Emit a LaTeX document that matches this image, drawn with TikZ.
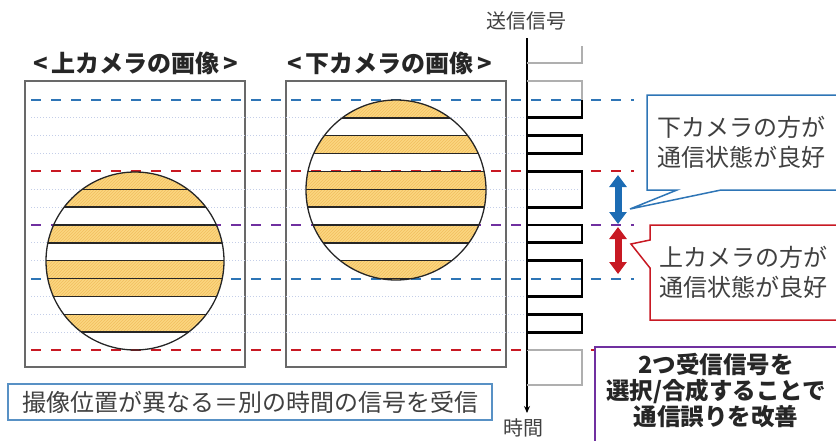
\documentclass[tikz,border=0pt]{standalone}
\usepackage{fontspec}
\setmainfont{Noto Sans CJK JP}
\usetikzlibrary{arrows.meta,patterns}
\definecolor{blueD}{RGB}{46,117,182}
\definecolor{redD}{RGB}{200,25,35}
\definecolor{purpleD}{RGB}{112,48,160}
\definecolor{gridL}{RGB}{196,206,232}
\definecolor{txtgray}{RGB}{64,64,64}
\definecolor{boxgray}{RGB}{105,105,105}
\definecolor{hatchY}{RGB}{251,214,128}
\definecolor{hatchL}{RGB}{242,190,95}
\definecolor{sigGray}{RGB}{175,175,175}
\definecolor{arrBlue}{RGB}{28,108,180}
\tikzset{
  imgbox/.style={draw=boxgray, line width=1.4pt},
  gridline/.style={draw=gridL, line width=0.8pt, dash pattern=on 1pt off 2pt},
  dashline/.style={line width=2pt, dash pattern=on 10pt off 10pt},
  chord/.style={draw=black!85, line width=1.3pt},
  circ/.style={draw=black!85, line width=1.3pt},
  sig/.style={draw=black, line width=2.8pt, line join=miter},
  siggray/.style={draw=sigGray, line width=1.2pt},
  dblarrow/.style={line width=7pt, {Triangle[width=17pt,length=12pt]}-{Triangle[width=17pt,length=12pt]}},
  title/.style={font=\fontsize{24}{26}\selectfont\bfseries, text=black!85, inner sep=0pt},
  plain/.style={font=\fontsize{24}{30}\selectfont, text=txtgray, inner sep=0pt, align=left},
  small/.style={font=\fontsize{20}{24}\selectfont, text=txtgray, inner sep=0pt},
}
\begin{document}
\begin{tikzpicture}[x=1pt,y=-1pt]
\useasboundingbox (0,0) rectangle (836,440);
\clip (0,0) rectangle (836,440);
% image frames
\draw[imgbox] (25,81) rectangle (245,367);
\draw[imgbox] (286,81) rectangle (506,367);
% grid lines
\foreach \k in {1,2,3,5,6,8,9,11,12,13}
  \draw[gridline] (31,{100+\k*250/14}) -- (580,{100+\k*250/14});
\foreach \k/\c in {0/blueD,4/redD,7/purpleD,10/blueD,14/redD}
  \draw[dashline, draw=\c] (31,{100+\k*250/14}) -- (634,{100+\k*250/14});
% left circle
\begin{scope}
  \clip (135,261) circle[radius=89pt];
  \foreach \k in {0,2,4,5,7,9,10,12} {
    \fill[hatchY] (40,{100+\k*250/14}) rectangle (232,{100+(\k+1)*250/14});
    \fill[pattern=north east lines, pattern color=hatchL] (40,{100+\k*250/14}) rectangle (232,{100+(\k+1)*250/14});
  }
  \foreach \k in {1,...,13}
    \draw[chord] (40,{100+\k*250/14}) -- (232,{100+\k*250/14});
\end{scope}
\draw[circ] (135,261) circle[radius=89pt];
% right circle
\begin{scope}
  \clip (396,190) circle[radius=90pt];
  \foreach \k in {0,2,4,5,7,9,10,12} {
    \fill[hatchY] (300,{100+\k*250/14}) rectangle (492,{100+(\k+1)*250/14});
    \fill[pattern=north east lines, pattern color=hatchL] (300,{100+\k*250/14}) rectangle (492,{100+(\k+1)*250/14});
  }
  \foreach \k in {1,...,13}
    \draw[chord] (300,{100+\k*250/14}) -- (492,{100+\k*250/14});
\end{scope}
\draw[circ] (396,190) circle[radius=90pt];
% time axis
\coordinate (ax0) at (527,38);
\coordinate (ax1) at (527,413);
\draw[line width=1.2pt, -{Stealth[length=7pt,width=6pt]}] (ax0) -- (ax1);
% gray signal parts
\draw[siggray] (582,46) -- (582,63) -- (527,63);
\draw[siggray] (527,81) -- (582,81) -- (582,100);
\draw[siggray] (527,350) -- (582,350) -- (582,385) -- (527,385);
% black signal
\draw[sig] (582,100) -- (582,117.86) -- (527,117.86) -- (527,135.71) -- (582,135.71)
  -- (582,153.57) -- (527,153.57) -- (527,171.43) -- (582,171.43) -- (582,207.14)
  -- (527,207.14) -- (527,225) -- (582,225) -- (582,242.86) -- (527,242.86)
  -- (527,260.71) -- (582,260.71) -- (582,296.43) -- (527,296.43) -- (527,314.29)
  -- (582,314.29) -- (582,332.14) -- (527,332.14) -- (527,350);
% double arrows
\coordinate (ba0) at (618,175);
\coordinate (ba1) at (618,224);
\coordinate (ra0) at (618,227);
\coordinate (ra1) at (618,274);
\draw[dblarrow, draw=arrBlue, fill=arrBlue] (ba0) -- (ba1);
\draw[dblarrow, draw=redD, fill=redD] (ra0) -- (ra1);
% callouts
\draw[draw=blueD, line width=1.5pt, fill=white]
  (677,190) -- (647,190) -- (647,95) -- (850,95) -- (850,190) -- (721,190) -- (630,209) -- cycle;
\node[plain, anchor=west] (bt) at (657,142) {下カメラの方が\\通信状態が良好};
\draw[draw=redD, line width=1.5pt, fill=white]
  (650,240) -- (650,225) -- (850,225) -- (850,320) -- (650,320) -- (650,268) -- (631,244) -- cycle;
\node[plain, anchor=west] (rt) at (659,272) {上カメラの方が\\通信状態が良好};
% purple box
\draw[draw=purpleD, line width=2pt, fill=white] (595,347) rectangle (850,450);
\node[title, align=center, font=\fontsize{23.5}{26}\selectfont\bfseries] (pt) at (716,391) {2つ受信信号を\\選択/合成することで\\通信誤りを改善};
% bottom box
\draw[draw=blueD!80, line width=1.5pt] (8,384) rectangle (492,420);
\node[plain, anchor=west] (bb) at (22,402) {撮像位置が異なる＝別の時間の信号を受信};
% titles
\node[title] (t1) at (136,63) {<\,上カメラの画像\,>};
\node[title] (t2) at (390,63) {<\,下カメラの画像\,>};
\node[small] (sg) at (526,21) {送信信号};
\node[small] (tm) at (523,428) {時間};
\end{tikzpicture}
\end{document}
